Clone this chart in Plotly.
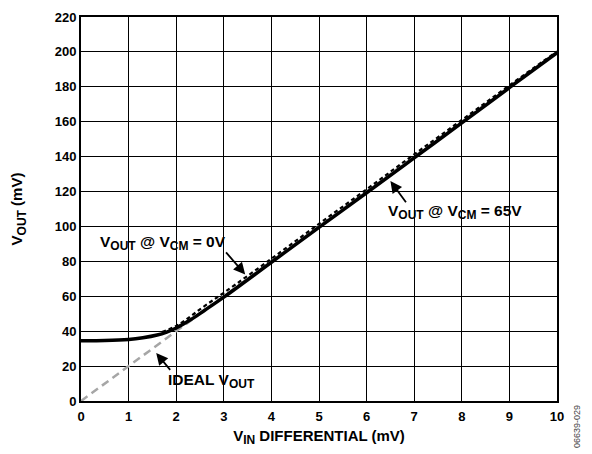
import plotly.graph_objects as go

# Data
vin_ideal = [0, 10]
vout_ideal = [0, 200]

vin_65 = [0, 0.5, 1.0, 1.3, 1.6, 1.8, 2.0, 2.3, 2.6, 3, 4, 5, 6, 7, 8, 9, 10]
vout_65 = [34.5, 34.6, 35.2, 36.2, 37.8, 39.5, 41.8, 46.5, 52, 59.5, 79.5, 99.5, 119.3, 139.3, 159.3, 179.5, 199.5]

vin_0 = [1.7, 2.0, 2.3, 2.6, 3, 4, 5, 6, 7, 8, 9, 10]
vout_0 = [39.5, 43.0, 48.5, 54.5, 62, 81.5, 101.5, 121.3, 141.3, 161.0, 180.8, 200.3]

xticks = list(range(0, 11))
yticks = list(range(0, 221, 20))

FONT = "Liberation Sans"


def sub(t, size=12):
    return f"<sub><span style='font-size:{size}px'>{t}</span></sub>"


fig = go.Figure()
fig.add_trace(go.Scatter(x=vin_ideal, y=vout_ideal, mode="lines",
                         line=dict(color="#a6a6a6", width=2.5, dash="8px,5px"),
                         showlegend=False))
fig.add_trace(go.Scatter(x=vin_65, y=vout_65, mode="lines",
                         line=dict(color="black", width=3.5, shape="spline"),
                         showlegend=False))
fig.add_trace(go.Scatter(x=vin_0, y=vout_0, mode="lines",
                         line=dict(color="black", width=2.2, dash="4px,3px", shape="spline"),
                         showlegend=False))

ann_font = dict(family=FONT, size=15.5, color="black")
fig.add_annotation(x=1.72, y=90.5, text=f"<b>V{sub('OUT')} @ V{sub('CM')} = 0V</b>",
                   showarrow=False, xanchor="center", yanchor="middle", font=ann_font)
fig.add_annotation(x=3.45, y=72.5, ax=3.02, ay=86, axref="x", ayref="y", text="",
                   showarrow=True, arrowhead=2, arrowsize=1.3, arrowwidth=1.8, arrowcolor="black")
fig.add_annotation(x=7.85, y=108, text=f"<b>V{sub('OUT')} @ V{sub('CM')} = 65V</b>",
                   showarrow=False, xanchor="center", yanchor="middle", font=ann_font)
fig.add_annotation(x=6.5, y=126, ax=6.85, ay=113, axref="x", ayref="y", text="",
                   showarrow=True, arrowhead=2, arrowsize=1.3, arrowwidth=1.8, arrowcolor="black")
fig.add_annotation(x=2.75, y=11.5, text=f"<b>IDEAL V{sub('OUT')}</b>",
                   showarrow=False, xanchor="center", yanchor="middle", font=ann_font)
fig.add_annotation(x=1.58, y=27.5, ax=1.9, ay=17, axref="x", ayref="y", text="",
                   showarrow=True, arrowhead=2, arrowsize=1.3, arrowwidth=1.8, arrowcolor="black")
fig.add_annotation(x=1.042, y=-0.065, xref="paper", yref="paper",
                   text="06639-029", textangle=-90, showarrow=False,
                   font=dict(family=FONT, size=9, color="#444444"),
                   xanchor="center", yanchor="middle")

axis_common = dict(showgrid=True, gridcolor="black", gridwidth=1,
                   showline=True, linecolor="black", linewidth=2, mirror=True,
                   ticks="", zeroline=False, automargin=False,
                   tickfont=dict(family=FONT, size=13, color="black"))

fig.update_xaxes(range=[0, 10], tickvals=xticks,
                 ticktext=[f"<b>{v}</b>" for v in xticks],
                 ticklabelstandoff=2,
                 title=dict(text=f"<b>V{sub('IN')} DIFFERENTIAL (mV)</b>",
                            font=dict(family=FONT, size=15, color="black"), standoff=8),
                 **axis_common)
fig.update_yaxes(range=[0, 220], tickvals=yticks,
                 ticktext=[f"<b>{v}</b>" for v in yticks],
                 title=dict(text=f"<b>V{sub('OUT')} (mV)</b>",
                            font=dict(family=FONT, size=15, color="black"), standoff=28),
                 **axis_common)

fig.update_layout(width=584, height=446,
                  margin=dict(l=73, r=35, t=9, b=53),
                  plot_bgcolor="white", paper_bgcolor="white",
                  showlegend=False)

fig.write_html("out.html")
